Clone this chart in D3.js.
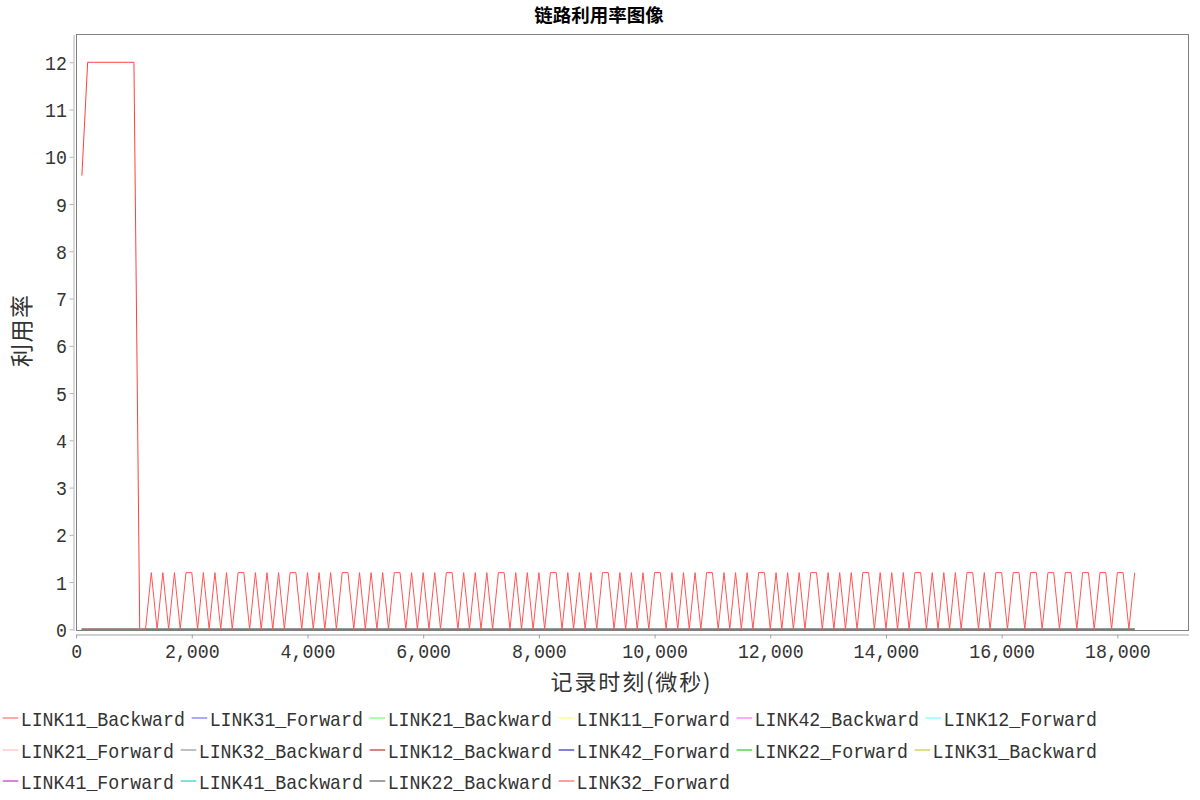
<!DOCTYPE html>
<html><head><meta charset="utf-8">
<script src="https://cdn.jsdelivr.net/npm/d3@7"></script>
<style>body{margin:0;background:#fff}svg{display:block}</style>
</head><body><svg id="c" width="1200" height="800"></svg>
<script>
// ---------- data ----------
const chartTitle = "链路利用率图像";
const xAxisLabel = "记录时刻(微秒)";
const yAxisLabel = "利用率";

const seriesNames = ["LINK11_Backward","LINK31_Forward","LINK21_Backward","LINK11_Forward","LINK42_Backward","LINK12_Forward",
  "LINK21_Forward","LINK32_Backward","LINK12_Backward","LINK42_Forward","LINK22_Forward","LINK31_Backward",
  "LINK41_Forward","LINK41_Backward","LINK22_Backward","LINK32_Forward"];
const seriesColors = ["#ff5555","#5555ff","#55ff55","#ffff55","#ff55ff","#55ffff",
  "#ffafaf","#808080","#c00000","#0000c0","#00c000","#c0c000",
  "#c000c0","#00c0c0","#404040","#ff4040"];

const times = [
100,200,300,400,500,600,700,800,900,1000,1100,1200,1300,1400,1500,1600,1700,1800,1900,2000,
2100,2200,2300,2400,2500,2600,2700,2800,2900,3000,3100,3200,3300,3400,3500,3600,3700,3800,3900,4000,
4100,4200,4300,4400,4500,4600,4700,4800,4900,5000,5100,5200,5300,5400,5500,5600,5700,5800,5900,6000,
6100,6200,6300,6400,6500,6600,6700,6800,6900,7000,7100,7200,7300,7400,7500,7600,7700,7800,7900,8000,
8100,8200,8300,8400,8500,8600,8700,8800,8900,9000,9100,9200,9300,9400,9500,9600,9700,9800,9900,10000,
10100,10200,10300,10400,10500,10600,10700,10800,10900,11000,11100,11200,11300,11400,11500,11600,11700,11800,11900,12000,
12100,12200,12300,12400,12500,12600,12700,12800,12900,13000,13100,13200,13300,13400,13500,13600,13700,13800,13900,14000,
14100,14200,14300,14400,14500,14600,14700,14800,14900,15000,15100,15200,15300,15400,15500,15600,15700,15800,15900,16000,
16100,16200,16300,16400,16500,16600,16700,16800,16900,17000,17100,17200,17300,17400,17500,17600,17700,17800,17900,18000,
18100,18200,18300];

const link11Backward = [
0,0,0,0,0,0,0,0,0,0,0,0,
1.2,0,1.2,0,1.2,0,
1.2,1.2,0,1.2,0,1.2,0,1.2,0,
1.2,1.2,0,1.2,0,1.2,0,1.2,0,
1.2,1.2,0,1.2,0,1.2,0,1.2,0,
1.2,1.2,0,1.2,0,1.2,0,1.2,0,
1.2,1.2,0,1.2,0,1.2,0,1.2,0,
1.2,1.2,0,1.2,0,1.2,0,1.2,0,
1.2,1.2,0,1.2,0,1.2,0,1.2,0,
1.2,1.2,0,1.2,0,1.2,0,1.2,0,
1.2,1.2,0,1.2,0,1.2,0,1.2,0,
1.2,1.2,0,1.2,0,1.2,0,1.2,0,
1.2,1.2,0,1.2,0,1.2,0,1.2,0,
1.2,1.2,0,1.2,0,1.2,0,1.2,0,
1.2,1.2,0,1.2,0,1.2,0,1.2,0,
1.2,1.2,0,1.2,0,1.2,0,1.2,0,
1.2,1.2,0,1.2,0,1.2,0,1.2,0,
1.2,1.2,0,1.2,0,
1.2,1.2,0,
1.2,1.2,0,
1.2,1.2,0,
1.2,1.2,0,
1.2,1.2,0,
1.2,1.2,0,
1.2,1.2,0,
1.2,1.2,0,
1.2];

const link32Forward = [
9.6,12,12,12,12,12,12,12,12,12,
0,0,0,0,0,0,0,0,0,0,0,0,0,0,0,0,0,0,0,0,
0,0,0,0,0,0,0,0,0,0,0,0,0,0,0,0,0,0,0,0,
0,0,0,0,0,0,0,0,0,0,0,0,0,0,0,0,0,0,0,0,
0,0,0,0,0,0,0,0,0,0,0,0,0,0,0,0,0,0,0,0,
0,0,0,0,0,0,0,0,0,0,0,0,0,0,0,0,0,0,0,0,
0,0,0,0,0,0,0,0,0,0,0,0,0,0,0,0,0,0,0,0,
0,0,0,0,0,0,0,0,0,0,0,0,0,0,0,0,0,0,0,0,
0,0,0,0,0,0,0,0,0,0,0,0,0,0,0,0,0,0,0,0,
0,0,0,0,0,0,0,0,0,0,0,0,0];

const idleLinkValues = [
0,0,0,0,0,0,0,0,0,0,0,0,0,0,0,0,0,0,0,0,
0,0,0,0,0,0,0,0,0,0,0,0,0,0,0,0,0,0,0,0,
0,0,0,0,0,0,0,0,0,0,0,0,0,0,0,0,0,0,0,0,
0,0,0,0,0,0,0,0,0,0,0,0,0,0,0,0,0,0,0,0,
0,0,0,0,0,0,0,0,0,0,0,0,0,0,0,0,0,0,0,0,
0,0,0,0,0,0,0,0,0,0,0,0,0,0,0,0,0,0,0,0,
0,0,0,0,0,0,0,0,0,0,0,0,0,0,0,0,0,0,0,0,
0,0,0,0,0,0,0,0,0,0,0,0,0,0,0,0,0,0,0,0,
0,0,0,0,0,0,0,0,0,0,0,0,0,0,0,0,0,0,0,0,
0,0,0];

const xTicks = [0,2000,4000,6000,8000,10000,12000,14000,16000,18000];
const yTicks = [0,1,2,3,4,5,6,7,8,9,10,11,12];

// ---------- build ----------
const seriesValues = seriesNames.map((n,i) =>
  n === "LINK11_Backward" ? link11Backward : (n === "LINK32_Forward" ? link32Forward : idleLinkValues));
const series = seriesNames.map((name,i) => ({name, color: seriesColors[i],
  points: times.map((t,j) => [t, seriesValues[i][j]])}));

const MONO = "'Liberation Mono', 'DejaVu Sans Mono', monospace";
const CJK = "'Noto Sans CJK SC', 'Noto Sans', sans-serif";
const CH = 10.95;

const svg = d3.select('#c');
svg.append('rect').attr('width',1200).attr('height',800).attr('fill','#fff');

const x = d3.scaleLinear().domain([0,19230]).range([76.1,1188.5]);
const y = d3.scaleLinear().domain([-0.025,12.588]).range([630.5,34.5]);

// plot background + outline
svg.append('rect').attr('x',76.5).attr('y',34.5).attr('width',1112).attr('height',596)
  .attr('fill','#fff').attr('stroke','#808080').attr('stroke-width',1);

// title
svg.append('text').attr('x',599).attr('y',21.5).attr('text-anchor','middle')
  .attr('font-family',CJK).attr('font-weight','bold').attr('font-size',18.5).attr('fill','#000')
  .text(chartTitle);

// y axis
const yAx = svg.append('g').attr('transform','translate(73.5,0)')
  .call(d3.axisLeft(y).tickValues(yTicks).tickSize(4).tickSizeOuter(0).tickPadding(2.5).tickFormat(d=>String(d)));
yAx.select('.domain').attr('stroke','#b4b4b4');
yAx.selectAll('.tick line').attr('stroke','#b4b4b4');
yAx.selectAll('.tick text').attr('font-family',MONO).attr('font-size',21).attr('fill','#333')
  .attr('dy',null).attr('y',7)
  .attr('textLength',d=>String(d).length*CH).attr('lengthAdjust','spacingAndGlyphs');

// x axis
const xAx = svg.append('g').attr('transform','translate(0,634.5)')
  .call(d3.axisBottom(x).tickValues(xTicks).tickSize(4).tickSizeOuter(0).tickPadding(4).tickFormat(d3.format(',')));
xAx.select('.domain').attr('stroke','#a0a0a0');
xAx.selectAll('.tick line').attr('stroke','#a0a0a0');
xAx.selectAll('.tick text').attr('font-family',MONO).attr('font-size',21).attr('fill','#333')
  .attr('dy',null).attr('y',23)
  .attr('textLength',d=>d3.format(',')(d).length*CH).attr('lengthAdjust','spacingAndGlyphs');

// axis labels
svg.append('text').attr('x',630.5).attr('y',689.5).attr('text-anchor','middle')
  .attr('font-family',CJK).attr('font-size',22).attr('fill','#333')
  .attr('textLength',160).attr('lengthAdjust','spacing').text(xAxisLabel);
svg.append('text').attr('transform','translate(22,331) rotate(-90)').attr('y',8).attr('text-anchor','middle')
  .attr('font-family',CJK).attr('font-size',23).attr('fill','#333')
  .attr('textLength',72).attr('lengthAdjust','spacing').text(yAxisLabel);

// series lines (reverse order so first series is on top)
const line = d3.line().x(d=>x(d[0])).y(d=>y(d[1]));
const lines = svg.append('g');
series.slice().reverse().forEach(s => {
  lines.append('path').attr('d', line(s.points)).attr('fill','none')
    .attr('stroke', s.color).attr('stroke-width',1).attr('stroke-linejoin','round');
});

// legend (flow, left aligned)
const legend = svg.append('g');
let lx = 2.7, row = 0;
const rowY = r => 718 + r*31.6;
series.forEach(s => {
  const tw = s.name.length*CH;
  const w = 18 + tw;
  if (lx + w > 1196) { row++; lx = 2.7; }
  const cy = Math.round(rowY(row));
  legend.append('line').attr('x1',lx).attr('x2',lx+15.6).attr('y1',cy).attr('y2',cy)
    .attr('stroke',s.color).attr('stroke-width',1);
  legend.append('text').attr('x',lx+18).attr('y',cy+7.5)
    .attr('font-family',MONO).attr('font-size',21).attr('fill','#333')
    .attr('textLength',tw).attr('lengthAdjust','spacingAndGlyphs').text(s.name);
  lx += w + 6.7;
});
</script></body></html>
